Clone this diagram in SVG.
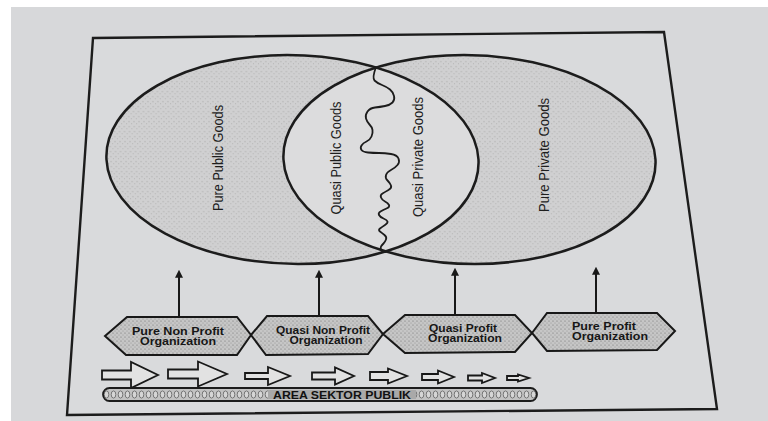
<svg xmlns="http://www.w3.org/2000/svg" width="768" height="421" viewBox="0 0 768 421">
  <defs>
    <style>
      .outline { fill: none; stroke: #1c1c1c; stroke-width: 2.5; }
      .label { font-family: "Liberation Sans", Arial, sans-serif; font-size: 14.5px; fill: #1e1e1e; text-anchor: middle; dominant-baseline: central; }
      .hexlabel { font-family: "Liberation Sans", Arial, sans-serif; font-size: 10px; font-weight: bold; fill: #161616; text-anchor: middle; }
      .hex { fill: url(#stippleDark); stroke: #181818; stroke-width: 2; stroke-linejoin: miter; }
      .blockarrow { fill: #e2e2e2; stroke: #181818; stroke-width: 1.8; stroke-linejoin: miter; }
      .conn { fill: none; stroke: #181818; stroke-width: 2; marker-end: url(#ah); }
      .barlabel { font-family: "Liberation Sans", Arial, sans-serif; font-size: 10px; font-weight: bold; fill: #111; text-anchor: middle; }
    </style>
    <pattern id="stipple" width="5" height="5" patternUnits="userSpaceOnUse">
      <rect width="5" height="5" fill="#d0d0d1"/>
      <circle cx="1" cy="1.5" r="0.55" fill="#9a9a9a"/>
      <circle cx="3.6" cy="3.8" r="0.5" fill="#a6a6a6"/>
    </pattern>
    <pattern id="stippleDark" width="4" height="4" patternUnits="userSpaceOnUse">
      <rect width="4" height="4" fill="#c6c6c6"/>
      <circle cx="1" cy="1" r="0.6" fill="#6e6e6e"/>
      <circle cx="3" cy="3" r="0.5" fill="#8a8a8a"/>
    </pattern>
    <pattern id="rings" width="7" height="13" patternUnits="userSpaceOnUse" x="103" y="388">
      <rect width="7" height="13" fill="#c2c2c2"/>
      <ellipse cx="3.5" cy="6.5" rx="2.3" ry="3.6" fill="#d6d6d6" stroke="#6a6a6a" stroke-width="0.9"/>
    </pattern>
    <marker id="ah" viewBox="0 0 10 10" refX="1" refY="5" markerWidth="8" markerHeight="8" markerUnits="userSpaceOnUse" orient="auto">
      <path d="M0,0 L10,5 L0,10 Z" fill="#181818"/>
    </marker>
    <clipPath id="clipLeft">
      <ellipse cx="292.5" cy="159.5" rx="186" ry="104.5"/>
    </clipPath>
  </defs>

  <!-- paper -->
  <rect x="0" y="0" width="768" height="421" fill="#ffffff"/>
  <rect x="11" y="7" width="757" height="414" fill="#d7d8da"/>

  <!-- frame -->
  <polygon id="frame" points="93,38 664,32 717,409 67,415" fill="#d9dadc" stroke="#1c1c1c" stroke-width="2.4"/>

  <!-- goods circles -->
  <g id="goods-circles" transform="translate(381,160) skewX(3) translate(-381,-160)">
    <g id="pure-public-goods">
      <ellipse cx="292.5" cy="159.5" rx="186" ry="104.5" fill="url(#stipple)"/>
    </g>
    <g id="pure-private-goods">
      <ellipse cx="469.5" cy="159.5" rx="186" ry="104.5" fill="url(#stipple)"/>
    </g>
    <g id="quasi-lens">
      <ellipse cx="469.5" cy="159.5" rx="186" ry="104.5" fill="#dcdcdd" clip-path="url(#clipLeft)"/>
    </g>
    <ellipse class="outline" cx="292.5" cy="159.5" rx="186" ry="104.5"/>
    <ellipse class="outline" cx="469.5" cy="159.5" rx="186" ry="104.5"/>
  </g>

  <!-- wavy divider -->
  <path id="wavy-divider" fill="none" stroke="#1c1c1c" stroke-width="1.8" stroke-linecap="round"
        d="M376,67 Q372,78 374.5,80.5 Q377,83 382,85 Q387,87 390,89.5 Q393,92 394,96 Q395,100 392.5,102.5 Q390,105 385,106 Q380,107 375,107.5 Q370,108 367.5,111.5 Q365,115 366,118.5 Q367,122 369.5,124.5 Q372,127 372.5,130 Q373,133 371.5,136.5 Q370,140 366.5,141.5 Q363,143 361.5,145.5 Q360,148 361.5,150 Q363,152 368,152.5 Q373,153 379,153 Q385,153 391,154 Q397,155 398.5,158.5 Q400,162 397.5,165 Q395,168 391,170 Q387,172 386,175 Q385,178 387.5,180.5 Q390,183 391,185.5 Q392,188 388.5,190 Q385,192 382.5,193.5 Q380,195 381,197.5 Q382,200 385,201.5 Q388,203 389,205 Q390,207 386.5,208.5 Q383,210 380.5,211.5 Q378,213 379,215 Q380,217 383.5,218.5 Q387,220 387.5,221.5 Q388,223 385,225 Q382,227 380,228.5 Q378,230 380,231.5 Q382,233 384.5,235 Q387,237 386,239.5 Q385,242 383.5,243.5 Q382,245 381,246.5 Q380,248 381.5,250.5 Q383,252 385.5,252"/>

  <!-- goods labels -->
  <g id="goods-labels">
    <text class="label" transform="translate(218,158) rotate(-90)" textLength="106" lengthAdjust="spacingAndGlyphs">Pure Public Goods</text>
    <text class="label" transform="translate(336,158) rotate(-90)" textLength="113" lengthAdjust="spacingAndGlyphs">Quasi Public Goods</text>
    <text class="label" transform="translate(418,157) rotate(-90)" textLength="120" lengthAdjust="spacingAndGlyphs">Quasi Private Goods</text>
    <text class="label" transform="translate(544,155) rotate(-90)" textLength="114" lengthAdjust="spacingAndGlyphs">Pure Private Goods</text>
  </g>

  <!-- connectors -->
  <g id="connectors">
    <line class="conn" x1="179" y1="317" x2="179" y2="277"/>
    <line class="conn" x1="319" y1="316" x2="319" y2="277"/>
    <line class="conn" x1="455" y1="315" x2="455" y2="275"/>
    <line class="conn" x1="596" y1="313" x2="596" y2="274"/>
  </g>

  <!-- organisation hexagons -->
  <g id="pure-non-profit">
    <polygon class="hex" points="105,336 127,317 237,317 251,335 237,355 126,355"/>
    <text class="hexlabel" x="178" y="335" textLength="92" lengthAdjust="spacingAndGlyphs">Pure Non Profit</text>
    <text class="hexlabel" x="178" y="345" textLength="76" lengthAdjust="spacingAndGlyphs">Organization</text>
  </g>
  <g id="quasi-non-profit">
    <polygon class="hex" points="251,335 267,316 368,316 383,334 368,354 266,355"/>
    <text class="hexlabel" x="323" y="334" textLength="94" lengthAdjust="spacingAndGlyphs">Quasi Non Profit</text>
    <text class="hexlabel" x="326" y="344" textLength="73" lengthAdjust="spacingAndGlyphs">Organization</text>
  </g>
  <g id="quasi-profit">
    <polygon class="hex" points="383,334 405,315 515,315 532,333 515,352 405,353"/>
    <text class="hexlabel" x="463" y="332" textLength="68" lengthAdjust="spacingAndGlyphs">Quasi Profit</text>
    <text class="hexlabel" x="465" y="342" textLength="74" lengthAdjust="spacingAndGlyphs">Organization</text>
  </g>
  <g id="pure-profit">
    <polygon class="hex" points="532,333 547,313 657,313 675,331 657,350 547,351"/>
    <text class="hexlabel" x="604" y="330" textLength="64" lengthAdjust="spacingAndGlyphs">Pure Profit</text>
    <text class="hexlabel" x="610" y="340" textLength="76" lengthAdjust="spacingAndGlyphs">Organization</text>
  </g>

  <!-- block arrows -->
  <g id="block-arrows">
    <path class="blockarrow" d="M102,370.5 L131,370.5 L131,362 L158,375 L131,388 L131,379.5 L102,379.5 Z"/>
    <path class="blockarrow" d="M168,369.5 L198,369.5 L198,361.5 L227,374 L198,386.5 L198,378.5 L168,378.5 Z"/>
    <path class="blockarrow" d="M245,373 L268,373 L268,367 L290,376 L268,385 L268,379 L245,379 Z"/>
    <path class="blockarrow" d="M312,372.5 L335,372.5 L335,367.5 L354,376 L335,384.5 L335,379.5 L312,379.5 Z"/>
    <path class="blockarrow" d="M370,372 L388,372 L388,368.5 L407,376 L388,383.5 L388,380 L370,380 Z"/>
    <path class="blockarrow" d="M422,374 L438,374 L438,370.5 L454,377 L438,383.5 L438,380 L422,380 Z"/>
    <path class="blockarrow" d="M468,375.5 L482,375.5 L482,373 L495,378 L482,383 L482,380.5 L468,380.5 Z"/>
    <path class="blockarrow" d="M507,376 L518,376 L518,374.5 L529,378 L518,381.5 L518,380 L507,380 Z"/>
  </g>

  <!-- public sector area bar -->
  <g id="area-sektor-publik">
    <rect x="103" y="388" width="434" height="13" rx="6.5" fill="url(#rings)" stroke="#1c1c1c" stroke-width="1.8"/>
    <rect x="268" y="390" width="148" height="9" fill="#a9a9a9"/>
    <text class="barlabel" x="342" y="398.5" textLength="138" lengthAdjust="spacingAndGlyphs">AREA SEKTOR PUBLIK</text>
  </g>
</svg>
